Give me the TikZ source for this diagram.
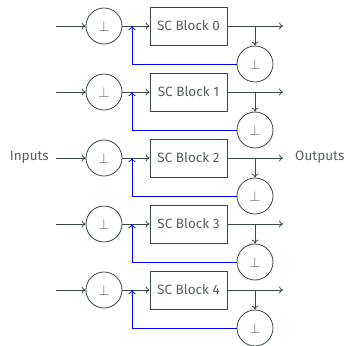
\documentclass[tikz,border=0pt]{standalone}
\usepackage{fontspec}
\setmainfont{Fira Sans}
\usetikzlibrary{arrows.meta}
\definecolor{ln}{HTML}{3A4848}
\definecolor{tx}{HTML}{566060}
\begin{document}
\begin{tikzpicture}[x=1pt,y=-1pt,
  every node/.style={font=\fontsize{13.5}{15}\selectfont, text=tx},
  orth/.style={circle, draw=ln, line width=0.8pt, minimum size=36pt, inner sep=0pt},
  scblock/.style={draw=ln, line width=0.8pt, minimum width=77pt, minimum height=38pt, inner sep=0pt},
  conn/.style={draw=ln, line width=0.8pt, -{To[length=4pt,width=7pt]}},
  fb/.style={draw=blue, line width=0.8pt, -{To[length=4pt,width=7pt]}},
  plain/.style={draw=ln, line width=0.8pt}]
\useasboundingbox (0,0) rectangle (349,346);
\foreach \i in {0,...,4} {
  \pgfmathsetmacro{\yy}{26+66*\i}
  \coordinate (in\i) at (56,\yy);
  \node[orth] (o\i) at (104,\yy) {$\perp$};
  \node[scblock] (b\i) at (188.5,\yy) {SC Block \i};
  \coordinate (j\i) at (255,\yy);
  \coordinate (out\i) at (283,\yy);
  \coordinate (m\i) at (132,\yy);
  \node[orth] (p\i) at (255,\yy+38) {$\perp$};
  \draw[conn] (in\i) -- (o\i);
  \draw[conn] (o\i) -- (b\i);
  \draw[conn] (b\i) -- (out\i);
  \draw[conn] (j\i) -- (p\i);
  \draw[fb] (p\i) -| (m\i);
}
\node[anchor=east, inner sep=0pt] (inl) at (49,157) {Inputs};
\node[anchor=west, inner sep=0pt] (outl) at (295,157) {Outputs};
\end{tikzpicture}
\end{document}
